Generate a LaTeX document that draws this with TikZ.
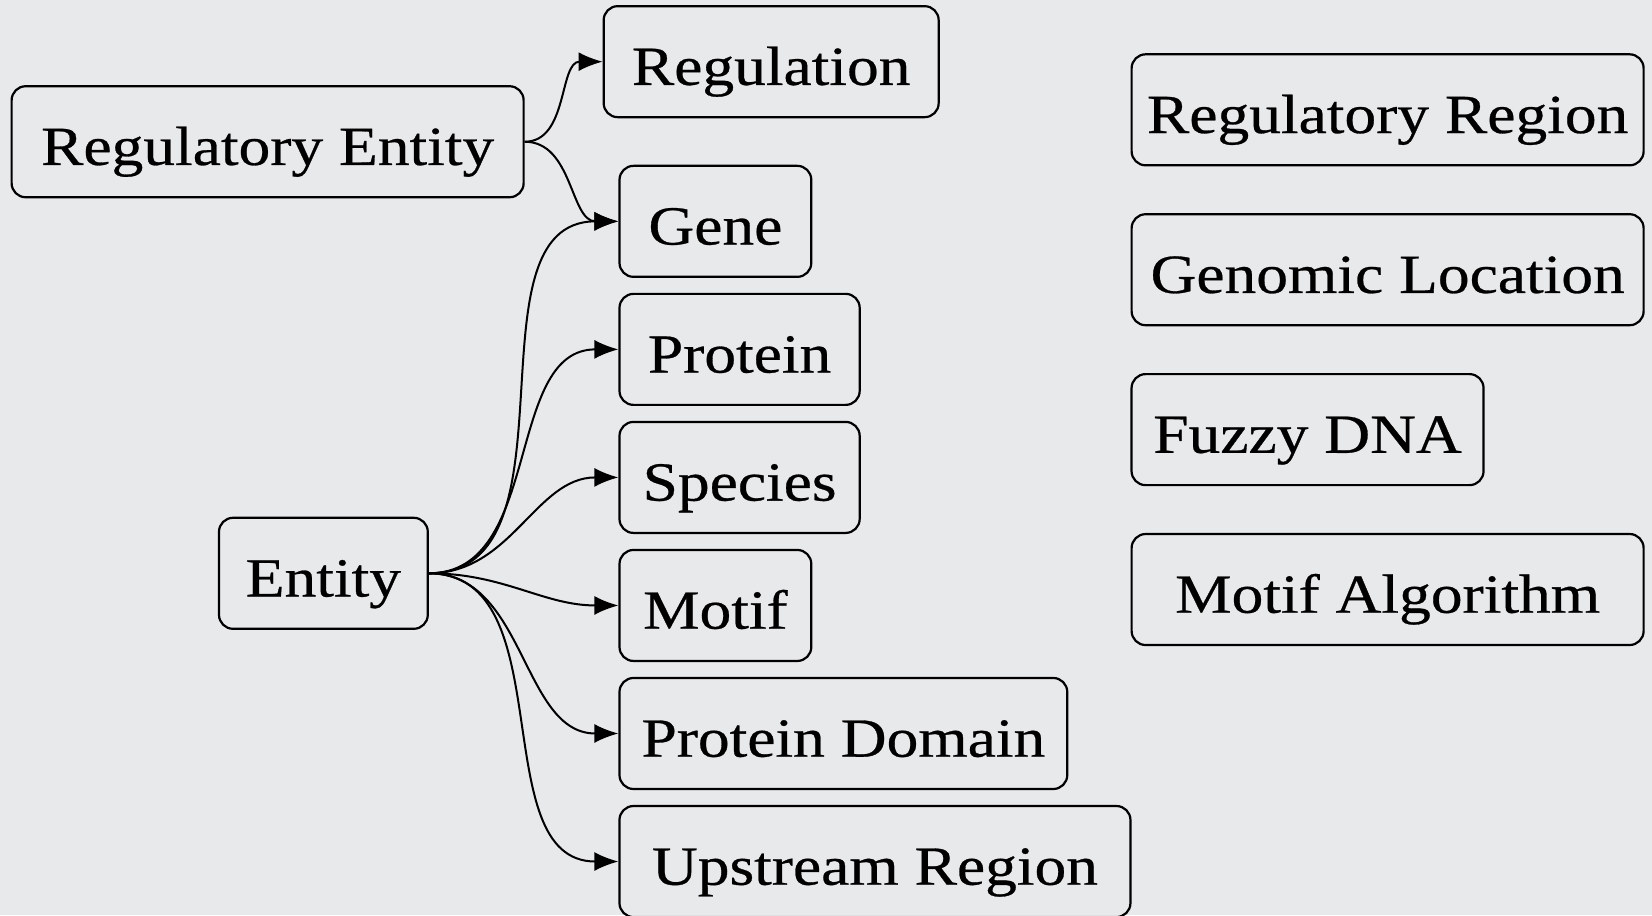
\documentclass[tikz,border=0pt]{standalone}
\usepackage{fontspec}
\setmainfont{Liberation Serif}[FakeStretch=1.15, FakeBold=0.5]
\usepackage{tikz}
\usetikzlibrary{arrows.meta}
\definecolor{marble}{RGB}{232,233,235}
\tikzset{
  box/.style={draw, line width=1.1pt, rounded corners=7pt, minimum height=55.5pt,
    inner sep=0pt, text height=24.9pt, text depth=1.7pt,
    font=\fontsize{27.6}{33}\selectfont},
  link/.style={->, line width=1pt},
  >={Latex[length=12pt,width=9.5pt]}
}

\begin{document}
\begin{tikzpicture}
\path[use as bounding box, fill=marble] (0,0) rectangle (29.031,16.080);
%
\node[box, minimum width=256pt](regent) at (4.703,13.589) {Regulatory Entity};
\node[box, minimum width=104.4pt](entity) at (5.683,6.005) {Entity};
%
\node[box, minimum width=167.5pt](regulation) at (13.552,14.996) {Regulation};
\node[box, minimum width=95.9pt](gene) at (12.572,12.19) {Gene};
\node[box, minimum width=120.1pt](protein) at (12.997,9.94) {Protein};
\node[box, minimum width=120.1pt](species) at (12.997,7.69) {Species};
\node[box, minimum width=95.9pt](motif) at (12.572,5.44) {Motif};
\node[box, minimum width=223.9pt](domain) at (14.821,3.19) {Protein Domain};
\node[box, minimum width=255.5pt](upstream) at (15.376,0.94) {Upstream Region};
%
\node[box, minimum width=256pt](regregion) at (24.385,14.15) {Regulatory Region};
\node[box, minimum width=256pt](genloc) at (24.385,11.34) {Genomic Location};
\node[box, minimum width=176pt](fuzzy) at (22.978,8.53) {Fuzzy DNA};
\node[box, minimum width=256pt](motifalg) at (24.385,5.72) {Motif Algorithm};
%
\draw[link](regent.east) to[out=0, in=180] (regulation.west);
\draw[link](regent.east) to[out=0, in=180] (gene.west);
\foreach \target in {gene, protein, species, motif, domain, upstream}
  \draw[link](entity.east) to[out=0, in=180] (\target.west);
\end{tikzpicture}
\end{document}
